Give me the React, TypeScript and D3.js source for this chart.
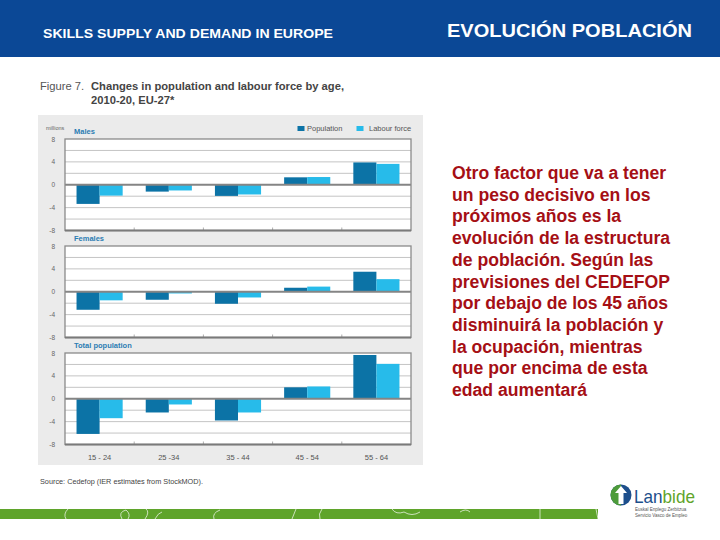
import React from "react";
import * as d3 from "d3";

const ageGroups = ["15 - 24", "25 -34", "35 - 44", "45 - 54", "55 - 64"];
const seriesNames = ["Population", "Labour force"];
const malesPopulation = [-3.35, -1.2, -1.95, 1.3, 3.9];
const malesLabour = [-1.9, -1.0, -1.7, 1.35, 3.65];
const femalesPopulation = [-3.15, -1.4, -2.1, 0.7, 3.5];
const femalesLabour = [-1.5, -0.3, -1.0, 0.9, 2.2];
const totalPopulation = [-6.15, -2.4, -3.8, 2.0, 7.65];
const totalLabour = [-3.4, -1.0, -2.4, 2.15, 6.1];
const panelTitles = ["Males", "Females", "Total population"];
const yTickLabels = [8, 4, 0, -4, -8];
const gridValues = [-6, -4, -2, 2, 4, 6];

const bodyText = [
  "Otro factor que va a tener",
  "un peso decisivo en los",
  "próximos años es la",
  "evolución de la estructura",
  "de población. Según las",
  "previsiones del CEDEFOP",
  "por debajo de los 45 años",
  "disminuirá la población y",
  "la ocupación, mientras",
  "que por encima de esta",
  "edad aumentará",
];

const COL_POP = "#0c73a6";
const COL_LAB = "#27bbea";
const SANS = "'Liberation Sans', Arial, sans-serif";

const panels = [
  { title: panelTitles[0], pop: malesPopulation, lab: malesLabour, top: 139 },
  { title: panelTitles[1], pop: femalesPopulation, lab: femalesLabour, top: 246 },
  { title: panelTitles[2], pop: totalPopulation, lab: totalLabour, top: 353 },
];
const PANEL_H = 91.5;
const PLOT_L = 65;
const PLOT_R = 411;

export default function App() {
  const x = d3.scaleBand<string>().domain(ageGroups).range([PLOT_L, PLOT_R]).paddingInner(0).paddingOuter(0);
  const x1 = d3.scaleBand<string>().domain(seriesNames).range([0, x.bandwidth()]).paddingInner(0).paddingOuter(0.5);

  return (
    <svg width={720} height={540} style={{ position: "absolute", left: 0, top: 0, background: "#fff" }}>
      {/* header */}
      <rect x={0} y={0} width={720} height={57} fill="#0b4896" />
      <text x={43} y={38} fill="#fff" fontFamily={SANS} fontSize={12.6} fontWeight="bold" textLength={290} lengthAdjust="spacingAndGlyphs">
        SKILLS SUPPLY AND DEMAND IN EUROPE
      </text>
      <text x={447} y={37} fill="#fff" fontFamily={SANS} fontSize={18.5} fontWeight="bold" textLength={245} lengthAdjust="spacingAndGlyphs">
        EVOLUCIÓN POBLACIÓN
      </text>

      {/* figure title */}
      <text x={40} y={90} fill="#555" fontFamily={SANS} fontSize={11.2}>Figure 7.</text>
      <text x={91} y={90} fill="#444" fontFamily={SANS} fontSize={11.2} fontWeight="bold">
        Changes in population and labour force by age,
      </text>
      <text x={91} y={104} fill="#444" fontFamily={SANS} fontSize={11.2} fontWeight="bold">
        2010-20, EU-27*
      </text>

      {/* chart background */}
      <rect x={38} y={115} width={385} height={350} fill="#ebebeb" />

      <text x={46} y={130} fill="#666" fontFamily={SANS} fontSize={5.5}>millions</text>

      {/* legend */}
      <rect x={297.5} y={126} width={7} height={5} fill={COL_POP} />
      <text x={307} y={131} fill="#555" fontFamily={SANS} fontSize={7.5}>Population</text>
      <rect x={356.5} y={126} width={7} height={5} fill={COL_LAB} />
      <text x={369} y={131} fill="#555" fontFamily={SANS} fontSize={7.5}>Labour force</text>

      {panels.map((p, pi) => {
        const y = d3.scaleLinear().domain([-8, 8]).range([p.top + PANEL_H, p.top]);
        return (
          <g key={pi}>
            <text x={74} y={p.top - 5} fill="#2c7db3" fontFamily={SANS} fontSize={7.5} fontWeight="bold">
              {p.title}
            </text>
            <rect x={PLOT_L} y={p.top} width={PLOT_R - PLOT_L} height={PANEL_H} fill="#fff" />
            {gridValues.map((g) => (
              <line key={g} x1={PLOT_L} x2={PLOT_R} y1={y(g)} y2={y(g)} stroke="#c4c4c4" strokeWidth={1} />
            ))}
            {yTickLabels.map((t) => (
              <text key={t} x={55} y={y(t) + 2.5} textAnchor="end" fill="#666" fontFamily={SANS} fontSize={6.5}>
                {t}
              </text>
            ))}
            {ageGroups.map((a, i) => (
              <g key={a} transform={`translate(${x(a)},0)`}>
                <rect
                  x={x1(seriesNames[0])}
                  width={x1.bandwidth()}
                  y={Math.min(y(0), y(p.pop[i]))}
                  height={Math.abs(y(p.pop[i]) - y(0))}
                  fill={COL_POP}
                />
                <rect
                  x={x1(seriesNames[1])}
                  width={x1.bandwidth()}
                  y={Math.min(y(0), y(p.lab[i]))}
                  height={Math.abs(y(p.lab[i]) - y(0))}
                  fill={COL_LAB}
                />
              </g>
            ))}
            {ageGroups.slice(1).map((a) => (
              <line key={a} x1={x(a)} x2={x(a)} y1={y(-8)} y2={y(-8) - 3} stroke="#999" strokeWidth={0.8} />
            ))}
            <line x1={PLOT_L} x2={PLOT_R} y1={y(0)} y2={y(0)} stroke="#858585" strokeWidth={2} />
            <rect x={PLOT_L} y={p.top} width={PLOT_R - PLOT_L} height={PANEL_H} fill="none" stroke="#8a8a8a" strokeWidth={1.3} />
            <line x1={PLOT_L} x2={PLOT_R} y1={y(-8)} y2={y(-8)} stroke="#7a7a7a" strokeWidth={1.8} />
          </g>
        );
      })}

      {ageGroups.map((a) => (
        <text key={a} x={(x(a) as number) + x.bandwidth() / 2} y={460} textAnchor="middle" fill="#555" fontFamily={SANS} fontSize={7.5}>
          {a}
        </text>
      ))}

      <text x={40} y={484} fill="#444" fontFamily={SANS} fontSize={7.3}>
        Source: Cedefop (IER estimates from StockMOD).
      </text>

      {/* body text */}
      {bodyText.map((l, i) => (
        <text key={i} x={452} y={179 + i * 21.7} fill="#a50f15" fontFamily={SANS} fontSize={17.6} fontWeight="bold">
          {l}
        </text>
      ))}

      {/* footer band */}
      <rect x={0} y={509} width={598} height={10} fill="#5fa42b" />
      <g stroke="#fff" strokeWidth={0.8} fill="none" opacity={0.85}>
        <path d="M66,519 Q63,514 68,509" />
        <path d="M122,519 Q118,512 126,510 Q131,514 128,519" />
        <path d="M145,519 Q150,512 146,509 M155,519 Q158,513 162,512" />
        <path d="M214,519 Q212,513 220,510" />
        <path d="M292,519 L296,509" />
        <path d="M320,519 Q318,514 322,509" />
        <path d="M392,509 Q396,515 404,512 Q412,517 420,512" />
        <path d="M460,512 Q466,508 470,512" />
        <path d="M540,509 L540,519" />
        <path d="M596,509 L598,519" />
      </g>

      {/* logo */}
      <circle cx={621} cy={495} r={10.5} fill="#1d4f8c" />
      <path d="M621,484.5 A10.5,10.5 0 0,0 621,505.5 Z" fill="#4d9b3a" />
      <path d="M621,486 L627,493 L623.5,493 L623.5,504 L618.5,504 L618.5,493 L615,493 Z" fill="#fff" />
      <text x={634} y={503} fontFamily={SANS} fontSize={18.5} fill="#1d4f8c" textLength={61} lengthAdjust="spacingAndGlyphs">
        Lan<tspan fill="#5fa42b">bide</tspan>
      </text>
      <text x={635} y={511} fontFamily={SANS} fontSize={4.5} fill="#555">Euskal Enplegu Zerbitzua</text>
      <text x={635} y={516.5} fontFamily={SANS} fontSize={4.5} fill="#555">Servicio Vasco de Empleo</text>
    </svg>
  );
}
